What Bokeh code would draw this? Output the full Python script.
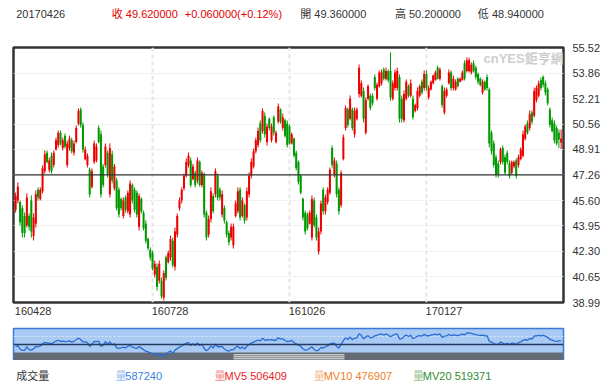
from bokeh.plotting import figure
from bokeh.models import (ColumnDataSource, Range1d, FixedTicker, Span, Label,
                          NumeralTickFormatter, LinearAxis)
from bokeh.layouts import column
from bokeh.embed import file_html
from bokeh.resources import INLINE
from bokeh.core.properties import value

# ---------------- data ----------------
opens = [45.0, 45.6, 45.5, 45.1, 44.6, 44.0, 44.6, 45.6, 43.3, 44.1, 46.3, 45.7, 46.2, 47.5, 48.7, 47.6, 48.5, 47.9, 48.9, 49.2,
         50.0, 49.0, 49.8, 47.9, 49.0, 49.5, 48.7, 49.4, 50.6, 51.5, 50.5, 48.3, 47.9, 47.6, 46.5, 48.1, 48.2, 50.3, 49.9, 47.8,
         47.9, 48.7, 46.0, 48.6, 46.4, 46.9, 46.3, 45.7, 44.6, 45.8, 44.9, 44.7, 46.6, 46.3, 46.1, 43.9, 45.7, 44.8, 44.1, 43.1,
         42.4, 42.2, 40.8, 41.3, 40.4, 40.4, 39.3, 41.9, 41.6, 41.9, 43.0, 41.3, 43.4, 45.1, 45.6, 46.4, 47.2, 47.9, 48.2, 47.0,
         47.4, 46.9, 48.1, 46.6, 47.3, 44.8, 43.4, 44.4, 45.9, 46.0, 47.2, 46.3, 44.7, 45.1, 44.2, 43.5, 43.2, 42.7, 44.6, 44.9,
         46.3, 44.6, 45.3, 44.5, 46.0, 47.2, 47.8, 48.8, 49.2, 50.6, 50.1, 51.1, 49.4, 50.9, 49.5, 51.0, 49.4, 50.7, 51.5, 50.3,
         50.8, 50.6, 50.4, 49.3, 49.6, 48.7, 48.1, 47.2, 45.7, 44.8, 44.7, 44.1, 43.2, 45.6, 44.5, 42.3, 43.6, 46.3, 44.9, 45.5,
         46.1, 49.0, 47.3, 48.0, 46.3, 45.3, 48.3, 50.3, 51.5, 50.9, 51.5, 49.9, 50.9, 52.5, 52.4, 52.7, 50.0, 52.2, 52.4, 52.4,
         53.6, 52.2, 53.0, 53.2, 54.1, 53.5, 54.0, 54.0, 52.2, 52.9, 52.9, 53.6, 52.2, 50.8, 52.2, 53.0, 52.4, 52.2, 51.4, 51.6,
         52.4, 53.3, 52.9, 53.8, 52.3, 52.8, 53.2, 53.4, 54.2, 53.5, 53.0, 51.3, 52.4, 53.2, 53.9, 52.9, 52.8, 53.5, 53.3, 53.4,
         54.5, 54.0, 54.0, 53.9, 54.5, 54.2, 53.8, 53.5, 52.6, 53.3, 53.6, 52.8, 50.0, 49.3, 48.4, 48.0, 48.1, 49.0, 48.4, 48.7,
         48.0, 47.4, 47.8, 48.2, 47.9, 48.3, 48.5, 49.6, 50.6, 50.3, 51.3, 51.1, 52.1, 52.4, 53.4, 53.6, 53.2, 52.8, 51.5, 50.8,
         50.6, 50.3, 50.0, 49.36]
highs = [46.12, 46.77, 45.6, 45.28, 44.82, 46.06, 44.76, 45.93, 44.76, 46.25, 46.45, 46.45, 47.87, 48.84, 48.84, 48.39, 48.71, 48.84, 49.68, 50.14,
         50.14, 49.68, 49.94, 49.49, 49.81, 49.68, 49.49, 50.46, 51.57, 51.63, 50.66, 49.1, 48.65, 47.74, 47.68, 49.49, 49.30, 50.46, 50.14, 47.97,
         49.30, 48.84, 49.30, 48.84, 47.97, 47.09, 46.45, 45.80, 45.80, 45.93, 46.25, 46.90, 46.71, 46.45, 46.25, 46.06, 45.80, 44.95, 44.31, 43.20,
         42.56, 42.36, 41.71, 41.52, 41.71, 40.61, 41.07, 42.04, 42.36, 43.33, 43.20, 43.85, 44.76, 45.80, 46.45, 47.35, 48.33, 48.71, 48.39, 47.97,
         47.55, 48.39, 48.2, 47.55, 47.42, 44.95, 44.63, 46.45, 46.06, 47.68, 47.35, 46.45, 46.25, 45.28, 44.31, 43.66, 44.11, 44.11, 45.60, 46.45,
         46.45, 45.80, 45.41, 46.45, 47.42, 48.33, 48.97, 49.68, 50.33, 50.79, 51.57, 51.31, 50.59, 50.98, 50.59, 51.11, 50.14, 51.89, 51.57, 51.24,
         50.92, 50.79, 50.53, 50.01, 49.68, 48.84, 48.20, 47.29, 45.80, 44.95, 44.82, 44.95, 45.93, 45.80, 44.69, 43.85, 45.60, 46.45, 45.99, 46.45,
         47.74, 49.17, 48.39, 48.20, 46.45, 47.55, 49.88, 51.76, 51.63, 52.41, 51.63, 51.63, 51.63, 54.42, 53.38, 52.93, 52.28, 53.12, 52.54, 52.54,
         53.77, 53.25, 54.03, 54.09, 54.22, 54.22, 54.09, 55.20, 53.38, 54.09, 54.22, 53.77, 52.41, 52.73, 53.45, 53.12, 53.45, 52.41, 51.89, 52.93,
         53.12, 53.45, 54.03, 54.03, 53.06, 53.38, 53.77, 54.03, 54.35, 54.22, 53.12, 52.93, 52.93, 54.09, 54.03, 53.71, 53.45, 53.58, 53.58, 54.03,
         54.68, 54.87, 54.87, 54.55, 54.68, 54.35, 53.90, 53.58, 53.45, 53.38, 53.77, 52.93, 50.14, 49.49, 48.58, 48.20, 49.04, 49.17, 48.58, 48.84,
         48.20, 48.20, 48.20, 48.33, 48.58, 49.04, 50.14, 50.53, 50.79, 51.44, 51.44, 52.93, 53.06, 53.38, 53.58, 53.71, 53.38, 52.93, 51.63, 50.98,
         50.79, 50.46, 50.20, 50.20]
lows = [44.82, 45.41, 43.98, 43.20, 43.20, 43.85, 43.66, 43.20, 43.01, 43.85, 45.60, 45.60, 46.06, 47.35, 48.00, 47.42, 47.35, 47.74, 48.84, 49.04,
        49.17, 48.84, 48.97, 47.74, 48.84, 48.65, 48.52, 49.30, 50.46, 50.33, 48.71, 48.2, 47.74, 45.80, 46.38, 47.97, 48.07, 49.30, 45.80, 46.45,
        47.74, 47.09, 45.80, 46.71, 46.25, 44.95, 44.50, 44.95, 44.44, 44.82, 44.76, 44.50, 45.41, 44.82, 44.50, 43.66, 44.76, 43.66, 42.82, 42.36,
        41.71, 41.07, 40.61, 39.77, 40.22, 39.25, 39.12, 40.42, 41.52, 41.71, 41.26, 41.07, 43.20, 44.95, 45.41, 46.25, 47.09, 47.74, 46.45, 46.90,
        46.45, 46.71, 46.5, 46.45, 44.50, 43.01, 43.20, 44.18, 44.76, 45.80, 45.60, 45.60, 44.50, 44.11, 43.20, 42.69, 43.01, 42.49, 44.50, 44.76,
        44.31, 44.50, 44.11, 44.31, 45.80, 47.03, 47.68, 48.65, 49.04, 49.36, 49.94, 49.68, 49.17, 50.14, 49.36, 49.81, 49.30, 50.59, 50.59, 50.14,
        49.68, 49.04, 49.23, 49.23, 48.39, 47.55, 46.64, 46.00, 44.31, 43.40, 43.66, 44.05, 43.01, 43.85, 43.01, 42.10, 43.40, 44.69, 44.69, 45.34,
        45.99, 47.74, 47.09, 45.80, 44.69, 45.15, 48.20, 50.14, 50.33, 50.79, 50.14, 49.68, 50.79, 52.28, 52.28, 50.66, 49.88, 52.08, 51.44, 51.76,
        52.73, 52.08, 52.93, 53.06, 53.38, 53.38, 53.25, 52.08, 52.08, 52.73, 52.73, 50.66, 50.66, 50.66, 52.08, 52.28, 52.28, 50.85, 51.31, 51.44,
        52.28, 52.47, 52.73, 52.73, 52.15, 52.73, 53.12, 53.38, 53.45, 53.38, 51.63, 51.18, 52.28, 53.12, 52.73, 52.73, 52.73, 52.93, 53.25, 53.38,
        53.38, 53.90, 53.90, 53.77, 53.90, 53.45, 53.12, 53.00, 52.47, 52.73, 52.73, 49.04, 48.58, 47.74, 47.09, 47.09, 47.94, 47.94, 47.29, 47.94,
        47.03, 47.29, 47.68, 47.03, 47.74, 48.20, 48.39, 49.49, 49.88, 50.14, 50.53, 50.98, 51.96, 52.28, 52.73, 52.93, 52.41, 51.76, 50.33, 50.01,
        49.30, 49.17, 49.00, 48.94]
closes = [45.9, 46.5, 44.2, 43.5, 43.5, 45.8, 43.9, 43.6, 44.5, 46.0, 45.8, 46.3, 47.7, 48.6, 48.1, 48.2, 47.5, 48.7, 49.5, 50.0,
          49.3, 49.5, 49.1, 49.3, 49.6, 48.8, 49.3, 50.3, 51.4, 50.5, 48.9, 48.9, 48.5, 46.0, 47.5, 49.3, 49.1, 49.4, 46.0, 46.6,
          49.1, 47.3, 49.0, 46.9, 47.8, 45.1, 44.7, 45.1, 45.6, 45.0, 46.1, 46.7, 45.6, 45.0, 44.7, 45.9, 44.9, 43.8, 43.0, 42.5,
          41.9, 41.2, 41.5, 40.0, 41.5, 39.4, 40.9, 40.6, 42.2, 43.1, 41.4, 43.6, 44.6, 45.6, 46.3, 47.2, 48.1, 48.5, 46.6, 47.8,
          46.6, 48.2, 46.6, 47.4, 44.7, 43.2, 44.4, 46.2, 44.9, 47.5, 45.8, 45.8, 46.0, 44.3, 43.4, 42.9, 43.9, 43.9, 45.4, 46.2,
          44.5, 45.6, 44.3, 46.2, 47.2, 48.1, 48.8, 49.5, 50.1, 49.5, 51.4, 49.9, 50.4, 50.3, 50.4, 50.0, 50.0, 51.7, 50.7, 51.0,
          49.8, 49.2, 49.3, 49.9, 48.5, 47.7, 46.8, 46.1, 44.5, 43.6, 43.8, 44.8, 45.7, 44.0, 43.2, 43.6, 45.4, 44.9, 45.8, 46.3,
          47.6, 47.9, 48.2, 46.0, 44.9, 47.4, 49.7, 51.6, 50.5, 52.2, 50.3, 51.4, 51.5, 54.2, 53.2, 50.9, 52.1, 53.0, 51.6, 51.9,
          52.9, 53.1, 53.9, 53.9, 53.5, 54.0, 53.4, 52.3, 53.2, 53.9, 54.0, 50.9, 50.9, 52.5, 53.3, 52.4, 53.2, 51.0, 51.8, 52.7,
          53.0, 52.6, 53.8, 52.9, 52.9, 53.3, 53.7, 53.9, 53.5, 54.1, 51.8, 52.7, 52.8, 53.9, 52.9, 53.5, 53.3, 53.0, 53.5, 53.9,
          53.5, 54.7, 54.7, 54.4, 54.0, 53.6, 53.3, 53.1, 53.3, 52.8, 52.9, 49.3, 48.8, 47.9, 47.3, 47.3, 48.9, 48.1, 47.4, 48.1,
          47.2, 48.1, 48.1, 47.2, 48.4, 48.9, 49.9, 50.4, 50.0, 51.2, 50.7, 52.7, 52.9, 53.2, 52.9, 53.1, 52.6, 51.9, 50.5, 50.1,
          49.5, 49.3, 49.56, 49.62]

price_ticks = [38.99, 40.65, 42.30, 43.95, 45.60, 47.26, 48.91, 50.56, 52.21, 53.86, 55.52]
ref_price = 47.26
date_tick_idx = [0, 61, 122, 183]
date_tick_labels = ["160428", "160728", "161026", "170127"]

header_texts = ["20170426", "收 49.620000", "+0.060000(+0.12%)", "開 49.360000", "高 50.200000", "低 48.940000"]
legend_names = ["成交量", "量", "量", "量", "量"]
legend_values = ["", "587240", "MV5 506409", "MV10 476907", "MV20 519371"]

# ---------------- styles ----------------
UP, DN = "#ee0000", "#009a00"
FONT = "Liberation Sans, Noto Sans CJK TC"
TXT = "#333333"
W = 610


def text_strip(height, xs, ys, texts, colors, alphas):
    f = figure(width=W, height=height, x_range=Range1d(0, W), y_range=Range1d(0, height),
               output_backend="svg", toolbar_location=None,
               x_axis_location=None, y_axis_location=None,
               min_border_left=0, min_border_right=0, min_border_top=0, min_border_bottom=0)
    f.outline_line_color = None
    f.xgrid.grid_line_color = None
    f.ygrid.grid_line_color = None
    f.background_fill_color = "white"
    f.border_fill_color = "white"
    s = ColumnDataSource(dict(x=xs, y=ys, t=texts, c=colors, a=alphas))
    f.text(x="x", y="y", text="t", text_color="c", text_alpha="a", source=s,
           text_align="left", text_baseline="middle",
           text_font=value(FONT), text_font_size=value("11px"))
    return f


N = len(closes)
idx = list(range(N))
colors = [UP if c >= o else DN for o, c in zip(opens, closes)]
src = ColumnDataSource(dict(
    x=idx, o=opens, h=highs, l=lows, c=closes,
    top=[max(o, c) for o, c in zip(opens, closes)],
    bottom=[min(o, c) for o, c in zip(opens, closes)],
    color=colors))

x_lo, x_hi = -0.94, N + 0.06

# ---------------- header strip ----------------
HEAD_H = 26
header_x = [3, 109, 190, 318, 423, 515]
header_col = [TXT, "#e60000", "#e60000", TXT, TXT, TXT]
hdr = text_strip(HEAD_H, header_x, [HEAD_H - 13] * len(header_texts), header_texts,
                 header_col, [1.0] * len(header_texts))

# ---------------- main chart ----------------
p = figure(width=W, height=296, x_range=Range1d(x_lo, x_hi),
           y_range=Range1d(price_ticks[0], price_ticks[-1]),
           output_backend="svg", toolbar_location=None,
           x_axis_location=None, y_axis_location="right",
           min_border_left=13, min_border_right=47, min_border_top=47 - HEAD_H,
           min_border_bottom=20)
p.background_fill_color = "white"
p.border_fill_color = "white"
p.outline_line_color = "#333333"
p.outline_line_width = 2.5

p.yaxis.ticker = FixedTicker(ticks=price_ticks)
p.yaxis.formatter = NumeralTickFormatter(format="0.00")
p.yaxis.axis_line_color = None
p.yaxis.major_tick_line_color = None
p.yaxis.minor_tick_line_color = None
p.yaxis.major_label_standoff = 3
p.yaxis.major_label_text_font = FONT
p.yaxis.major_label_text_font_size = "11px"
p.yaxis.major_label_text_color = TXT

# date axis: a shifted range so that labels start at their grid line
shift = 7.8
p.extra_x_ranges = {"dates": Range1d(x_lo - shift, x_hi - shift)}
xax = LinearAxis(x_range_name="dates", ticker=FixedTicker(ticks=date_tick_idx),
                 major_label_overrides={i: t for i, t in zip(date_tick_idx, date_tick_labels)})
xax.axis_line_color = None
xax.major_tick_line_color = None
xax.minor_tick_line_color = None
xax.major_tick_out = 0
xax.major_tick_in = 0
xax.major_label_standoff = 4
xax.major_label_text_font = FONT
xax.major_label_text_font_size = "11px"
xax.major_label_text_color = TXT
p.add_layout(xax, "below")

p.xgrid.grid_line_color = None
p.ygrid.grid_line_color = "#e3e3e3"
p.ygrid.grid_line_dash = "2 2"
p.ygrid.grid_line_width = 1

for i in date_tick_idx[1:]:
    p.add_layout(Span(location=i, dimension="height", line_color="#e6e6e6",
                      line_width=2, line_dash="4 3", level="underlay"))

p.segment(x0="x", y0="h", x1="x", y1="l", color="color", line_width=1, source=src)
p.vbar(x="x", width=0.9, top="top", bottom="bottom", fill_color="color",
       line_color=None, source=src)

p.add_layout(Span(location=ref_price, dimension="width", line_color="#333333", line_width=1.2))

p.add_layout(Label(x=470, y=244, x_units="screen", y_units="screen", text="cnYES鉅亨網",
                   text_align="left", text_baseline="middle", text_font=FONT,
                   text_font_size="13px", text_font_style="bold",
                   text_color="#c4c4c4", text_alpha=0.85))

# ---------------- navigator ----------------
n = figure(width=W, height=38, x_range=Range1d(x_lo, x_hi), y_range=Range1d(36.9, 57.6),
           output_backend="svg", toolbar_location=None,
           x_axis_location=None, y_axis_location=None,
           min_border_left=13, min_border_right=47, min_border_top=6, min_border_bottom=0)
n.extra_x_ranges = {"px": Range1d(0, 550)}
n.extra_y_ranges = {"px": Range1d(0, 32)}
n.background_fill_color = "#a9cbf3"
n.border_fill_color = "white"
n.outline_line_color = "#3b78d8"
n.outline_line_width = 1.5
n.xgrid.grid_line_color = None
n.ygrid.grid_line_color = None

n.quad(left=[0], right=[550], bottom=[0], top=[8], x_range_name="px", y_range_name="px",
       fill_color="#646b74", line_color=None)
n.segment(x0=[220, 220, 220], x1=[331, 331, 331], y0=[5.7, 3.7, 1.7], y1=[5.7, 3.7, 1.7],
          x_range_name="px", y_range_name="px", line_color="#f2f2f2", line_width=1)
n.segment(x0=[0], x1=[550], y0=[24], y1=[24], x_range_name="px", y_range_name="px",
          line_color="#d6e6fa", line_width=1, line_dash="2 2")
n.add_layout(Span(location=ref_price, dimension="width", line_color="#243a5e", line_width=1.3))
n.line(idx, closes, line_color="#2a6bd4", line_width=1.3)

# ---------------- legend strip ----------------
LEG_H = 24
leg_x = [3, 113, 223, 333, 443]
leg_col = [TXT, "#3b82e0", "#e8231f", "#f07d2a", "#2e8b2e"]
lx_all, lt_all, lc_all, la_all = [], [], [], []
for nm, vl, lx, lc in zip(legend_names, legend_values, leg_x, leg_col):
    lx_all.append(lx); lt_all.append(nm); lc_all.append(lc); la_all.append(1.0 if vl == "" else 0.55)
    if vl:
        lx_all.append(lx + 11); lt_all.append(vl); lc_all.append(lc); la_all.append(1.0)
leg = text_strip(LEG_H, lx_all, [9] * len(lx_all), lt_all, lc_all, la_all)

layout = column(hdr, p, n, leg, spacing=0)
open("out.html", "w").write(file_html(layout, INLINE))
